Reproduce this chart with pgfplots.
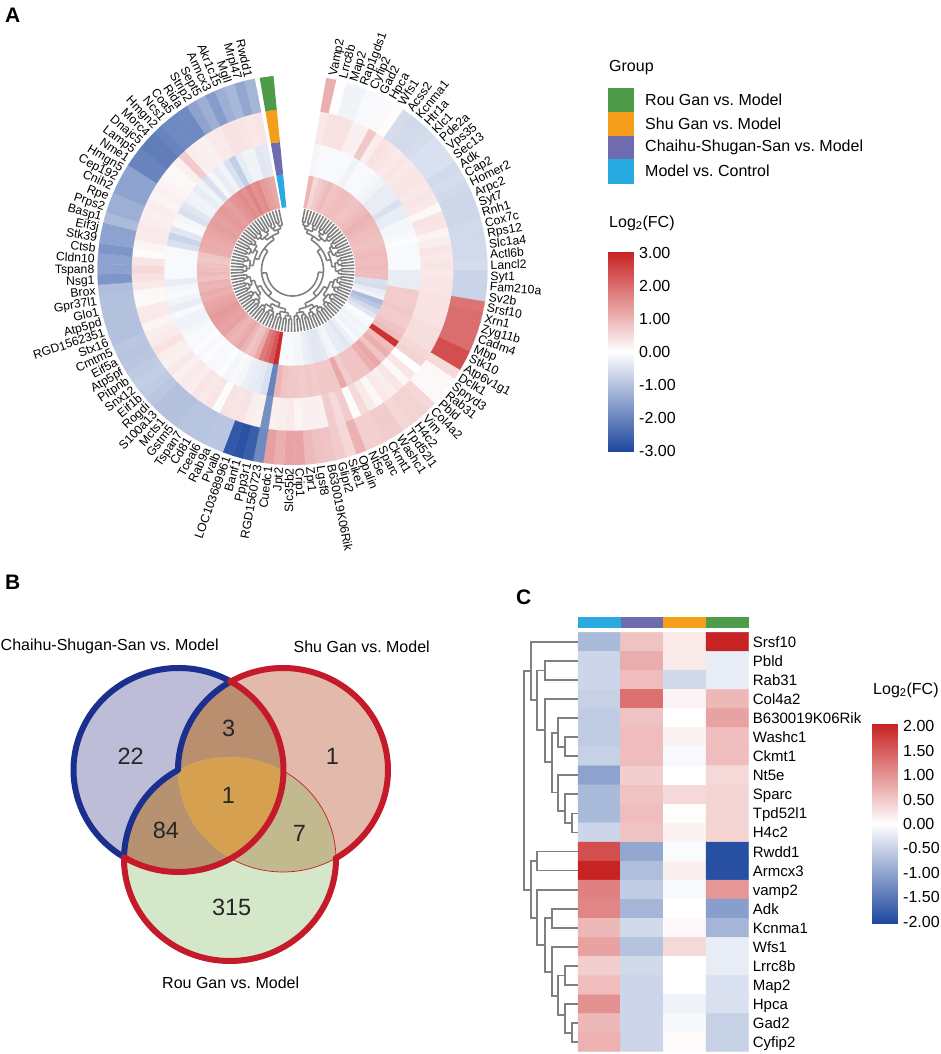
\documentclass[border=0pt]{standalone}
\usepackage{fontspec}
\setmainfont{Liberation Sans}
\usepackage{pgfplots}
\pgfplotsset{compat=1.18}
\usepgfplotslibrary{polar,patchplots}
\newcommand\fs[1]{\fontsize{#1}{#1}\selectfont}
\frenchspacing

\definecolor{stripcy}{HTML}{29ABE2}
\definecolor{strippu}{HTML}{6E6BAE}
\definecolor{stripor}{HTML}{F59E1B}
\definecolor{stripgr}{HTML}{4E9C4A}
\definecolor{treegray}{HTML}{808080}
\definecolor{vblue}{HTML}{1B2F8F}
\definecolor{vred}{HTML}{C41A2A}

\pgfplotsset{colormap={lfc}{rgb255(0cm)=(28,70,157); rgb255(1cm)=(255,255,255); rgb255(2cm)=(200,35,35)}}

% ring cells: angle step 3.08 deg, starts 10 deg clockwise from the top
\def\buildring#1#2#3#4{%
  \gdef#1{}%
  \foreach \v [count=\i] in {#4} {%
    \pgfmathsetmacro\aa{80-3.08*(\i-1)}%
    \pgfmathsetmacro\ab{\aa-3.08}%
    \xdef#1{#1 (\aa,#2) [\v] (\ab,#2) [\v] (\ab,#3) [\v] (\aa,#3) [\v]}%
  }}

\buildring\ringa{63}{96}{%
1.0,.55,.7,.8,.95,.8,.85,.9,.9,.85,
.8,.85,.9,.95,1.05,1,.95,.9,.9,.85,
.85,.9,.95,.9,.9,.95,.9,.9,-.5,-.55,
-.3,-.2,-1.1,-.9,-.6,-.4,-.05,-.1,-.2,-.15,
-.2,-.1,-.25,-.4,-.3,-.3,-.15,-.2,-.35,-.4,
-.4,-.3,-.25,-.15,-.15,-.1,-.1,-.1,2.9,2.3,
2,1.8,1.2,.9,.8,1,1.2,1.1,1,1.1,
1.3,1.25,1.3,1.35,1.4,1.3,1.25,1.2,1.1,1.15,
1,1.05,.85,.95,.9,.85,.75,.8,1.1,1.15,
1.15,1.2,1.25,1.3,1.35,1.3,1.35,1.4,1.35,1.3,
1.45,1.5,1.6,1.5,1.7,1.5,1.6,1.35,1.3,1.2}
\buildring\ringb{96}{128.5}{%
-.15,-.1,-.1,-.1,-.1,-.1,-.2,-.1,-.1,-.1,
-.15,-.2,-.3,-.3,-.3,-.5,-.3,-.3,-.15,-.15,
-.1,-.05,-.1,-.1,-.1,-.1,-.3,-.3,-.3,.7,
.7,.7,.75,.7,.7,.8,.9,2.8,.9,1.1,
.8,1.2,1.1,.8,.8,.8,.7,1.2,.75,.75,
.75,.7,.75,.7,.75,.75,.8,1,-2,-.5,
-.35,-.3,-.25,-.15,-.1,-.15,-.05,-.1,-.1,-.05,
-.1,-.05,-.1,-.1,-.15,-.2,-.2,-.1,-.3,-.2,
-.1,-.15,-.3,-.1,-.1,-.1,-.1,-.1,-.5,-.7,
-.4,-.1,-.15,-.5,-.4,-.2,-.2,-.3,-.2,-.5,
-.15,-.3,-.2,-.5,-.8,-.3,-.2,-.2,-.4,-.35}
\buildring\ringc{128.5}{161}{%
.3,.4,.4,.4,.2,.2,.75,.25,.4,.35,
.3,.35,.3,.35,.35,.3,.35,.3,.1,.4,
.35,.15,.25,.35,.3,.35,.3,.35,.35,.4,
.4,.4,.4,.45,.45,.45,.55,.6,0,.35,
.1,.35,.25,.3,.1,.3,.5,.05,.7,.5,
.7,.2,.2,.2,.15,.3,.25,.2,-1.8,.2,
.25,.4,.35,.4,.05,.35,.3,.35,.25,.3,
.2,.3,.2,.25,.4,.3,.25,.15,.3,.3,
.1,.1,.3,.4,.5,.35,.05,.15,.3,.3,
.25,.2,.25,.15,.2,.15,.1,.1,.2,.7,
.25,.2,.2,.3,.3,.4,.4,.35,.3,.35}
\buildring\ringd{161}{195}{%
1.1,0.02,-.2,-.2,-.1,-.1,.08,.05,-.55,-.6,
-.6,-.55,-.5,-.5,-.5,-.6,-.55,-.6,-.65,-.65,
-.65,-.6,-.6,-.6,-.6,-.55,-.7,-.7,-.7,1.9,
2,2,2,2,2.4,2.4,.5,.1,.1,.1,
.55,.6,.6,.55,.7,.7,.65,.65,1.05,.55,
.7,.8,.85,.95,1.25,1.25,1.1,1.3,-1.9,-2.6,
-2.8,-2.7,-.9,-.9,-.95,-.95,-.95,-1,-1,-1,
-.9,-.85,-.8,-.85,-.9,-.95,-.9,-1,-1,-1,
-1,-1,-1.05,-1.7,-1.5,-1.5,-1.7,-1.5,-1.5,-1.1,
-1.3,-1.3,-1.5,-1.5,-1.5,-2,-2,-2.1,-2.1,-2,
-1.9,-1.9,-1.9,-1.5,-1.3,-1.6,-1.3,-1.15,-1.45,-1.2}

% circular dendrogram, collected into one path
\gdef\dcoords{}
\def\levr#1{\ifcase#1 26\or31\or35.5\or39.5\or43\or46\or49\or52\else 54\fi}
\def\addarc#1#2#3{%
  \pgfmathsetmacro\aone{80-3.08*(#1-0.5)}%
  \pgfmathsetmacro\atwo{80-3.08*(#2-0.5)}%
  \pgfmathtruncatemacro\nseg{max(1,ceil(abs(#2-(#1))))}%
  \foreach \k in {0,...,\nseg}{%
    \pgfmathsetmacro\ak{\aone+(\atwo-\aone)*\k/\nseg}%
    \xdef\dcoords{\dcoords (\ak,#3)}}%
  \xdef\dcoords{\dcoords (nan,nan)}}
\def\addrad#1#2#3{%
  \pgfmathsetmacro\aone{80-3.08*(#1-0.5)}%
  \xdef\dcoords{\dcoords (\aone,#2) (\aone,#3) (nan,nan)}}
\def\dtree#1#2#3{%
  \begingroup
  \pgfmathtruncatemacro\midl{(#1+#2)/2}%
  \pgfmathtruncatemacro\midr{\midl+1}%
  \pgfmathsetmacro\dpl{(#1+\midl)/2}%
  \pgfmathsetmacro\dpr{(\midr+#2)/2}%
  \edef\rr{\levr{#3}}%
  \edef\rc{\levr{\numexpr#3+1\relax}}%
  \edef\nl{\the\numexpr#3+1\relax}%
  \addarc{\dpl}{\dpr}{\rr}%
  \ifnum#1<\midl
    \addrad{\dpl}{\rr}{\rc}%
    \edef\nx{\noexpand\dtree{#1}{\midl}{\nl}}\nx
  \else
    \addrad{\dpl}{\rr}{62}%
  \fi
  \ifnum\midr<#2
    \addrad{\dpr}{\rr}{\rc}%
    \edef\nx{\noexpand\dtree{\midr}{#2}{\nl}}\nx
  \else
    \addrad{\dpr}{\rr}{62}%
  \fi
  \endgroup}
\dtree{1}{110}{0}

\def\ellA{(axis cs:178.5,284) ellipse [x radius=105,y radius=102]}
\def\ellB{(axis cs:283,284) ellipse [x radius=105,y radius=102]}
\def\ellC{(axis cs:230,195) ellipse [x radius=106,y radius=102]}

\begin{document}
\begin{tikzpicture}[x=1pt,y=1pt]
\path[use as bounding box] (0,0) rectangle (941,1054);

% ---- A: circular heatmap
\begin{polaraxis}[at={(292.5pt,784pt)},anchor=center,scale only axis,width=390pt,height=390pt,
  xmin=0,xmax=360,ymin=0,ymax=195,hide axis,clip=false,
  colormap name=lfc,point meta min=-3,point meta max=3]
\foreach \rg in {\ringa,\ringb,\ringc,\ringd}{%
  \edef\tmp{\noexpand\addplot[patch,patch type=rectangle,shader=faceted,faceted color=mapped color,line width=0.2pt,point meta=explicit] coordinates {\rg};}\tmp}
\addplot[fill=stripcy,draw=none] coordinates {(99.7,63) (95.6,63) (95.6,96) (99.7,96)} -- cycle;
\addplot[fill=strippu,draw=none] coordinates {(99.7,96) (95.6,96) (95.6,128.5) (99.7,128.5)} -- cycle;
\addplot[fill=stripor,draw=none] coordinates {(99.7,128.5) (95.6,128.5) (95.6,161) (99.7,161)} -- cycle;
\addplot[fill=stripgr,draw=none] coordinates {(99.7,161) (95.6,161) (95.6,195) (99.7,195)} -- cycle;
\edef\tmp{\noexpand\addplot[treegray,line width=1.6pt,mark=none,unbounded coords=jump] coordinates {\dcoords};}\tmp
\pgfplotsextra{%
\foreach \g [count=\i] in {Vamp2,Lrrc8b,Map2,Rap1gds1,Cyfip2,Gad2,Hpca,Wfs1,Acss2,Kcnma1,
Htr1a,Klc1,Pde2a,Vps35,Sec13,Adk,Cap2,Homer2,Arpc2,Syt7,
Rnh1,Cox7c,Rps12,Slc1a4,Actl6b,Lancl2,Syt1,Fam210a,Sv2b,Srsf10,
Xrn1,Zyg11b,Cadm4,Mbp,Stk10,Atp6v1g1,Dclk1,Spryd3,Rab31,Pbld,
Col4a2,Vim,H4c2,Tpd52l1,Washc1,Ckmt1,Sparc,Nt5e,Opalin,Sike1,
Glipr2,B630019K06Rik,Lgsf8,Zpr1,Crip1,Slc35b2,Jpt2,Cuedc1,RGD1560723,Ppp3r1,
Banf1,LOC103689961,Pvalb,Rab9a,Tceal6,Cd81,Tspan7,Gstm5,Mcts1,S100a13,
Rogdi,Eif1b,Snx12,Pitpnb,Atp5pf,Eif5a,Cmtm5,Stx16,RGD1562351,Atp5pd,
Glo1,Gpr37l1,Brox,Nsg1,Tspan8,Cldn10,Ctsb,Stk39,Eif3j,Basp1,
Prps2,Rpe,Cnih2,Cep192,Hmgn5,Nme1,Lamp5,Dnajc5,Morc4,Hmgn2,
Ncs1,Coa5,Rida,Strip2,Sept5,Armcx3,Akr1c15,Mgll,Mrpl47,Rwdd1}{%
  \pgfmathsetmacro\ga{80-3.08*(\i-0.5)}%
  \ifnum\i<56
    \node[anchor=west,inner sep=0pt,text height=11pt,text depth=2pt,rotate=\ga,font=\fs{12.2}] at (axis cs:\ga,198) {\g};
  \else
    \pgfmathsetmacro\gb{\ga+180}%
    \node[anchor=east,inner sep=0pt,text height=11pt,text depth=2pt,rotate=\gb,font=\fs{12.2}] at (axis cs:\ga,198) {\g};
  \fi
}}
\end{polaraxis}

% ---- legend
\node[anchor=west,inner sep=0pt,font=\fs{16}] at (609,986) {Group};
\fill[stripgr] (608,966) rectangle (634,942);
\fill[stripor] (608,942) rectangle (634,918);
\fill[strippu] (608,918) rectangle (634,895);
\fill[stripcy] (608,895) rectangle (634,870);
\node[anchor=west,inner sep=0pt,font=\fs{16}] at (645,954) {Rou Gan vs. Model};
\node[anchor=west,inner sep=0pt,font=\fs{16}] at (645,930) {Shu Gan vs. Model};
\node[anchor=west,inner sep=0pt,font=\fs{16}] at (645,907) {Chaihu-Shugan-San vs. Model};
\node[anchor=west,inner sep=0pt,font=\fs{16}] at (645,883) {Model vs. Control};
\node[anchor=west,inner sep=0pt,font=\fs{16}] at (609,831) {Log\textsubscript{2}(FC)};

\begin{axis}[at={(608pt,602pt)},anchor=south west,scale only axis,width=25pt,height=200pt,
  xmin=0,xmax=1,ymin=-3.03,ymax=3.03,xtick=\empty,ytick={-3,-2,-1,0,1,2,3},
  yticklabels={-3.00,-2.00,-1.00,0.00,1.00,2.00,3.00},yticklabel pos=right,
  axis line style={draw=none},major tick length=0pt,
  yticklabel style={font=\fs{16},anchor=west,inner sep=0pt,xshift=6pt},
  colormap name=lfc,point meta min=-3,point meta max=3]
\addplot[patch,patch type=rectangle,shader=interp,point meta=explicit] coordinates {
  (0,-3.03) [-3] (1,-3.03) [-3] (1,0) [0] (0,0) [0]
  (0,0) [0] (1,0) [0] (1,3.03) [3] (0,3.03) [3]};
\end{axis}

% ---- B: Venn diagram
\begin{axis}[at={(0pt,0pt)},anchor=south west,scale only axis,width=440pt,height=454pt,
  xmin=0,xmax=440,ymin=0,ymax=454,hide axis,clip=false]
\fill[fill={rgb,255:red,189;green,189;blue,216}] \ellA;
\fill[fill={rgb,255:red,227;green,185;blue,171}] \ellB;
\fill[fill={rgb,255:red,212;green,231;blue,200}] \ellC;
\begin{scope}\clip \ellA; \fill[fill={rgb,255:red,185;green,143;blue,112}] \ellB; \end{scope}
\begin{scope}\clip \ellA; \fill[fill={rgb,255:red,183;green,146;blue,112}] \ellC; \end{scope}
\begin{scope}\clip \ellB; \fill[fill={rgb,255:red,194;green,186;blue,142}] \ellC; \end{scope}
\begin{scope}\clip \ellA; \clip \ellB; \fill[fill={rgb,255:red,213;green,160;blue,79}] \ellC; \end{scope}
\draw[vred,line width=0.7pt] (axis cs:230,195) ++(58.7:106 and 102) arc[start angle=58.7,end angle=0,x radius=106,y radius=102];
\draw[vred,line width=0.7pt] (axis cs:283,284) ++(-59.9:105 and 102) arc[start angle=-59.9,end angle=-120.3,x radius=105,y radius=102];
\draw[vblue,line width=6pt,line cap=round] (axis cs:178.5,284) ++(60.6:105 and 102) arc[start angle=60.6,end angle=238.7,x radius=105,y radius=102];
\draw[vblue,line width=6pt,line cap=round] (axis cs:283,284) ++(120.3:105 and 102) arc[start angle=120.3,end angle=180,x radius=105,y radius=102];
\draw[vblue,line width=6pt,line cap=round] (axis cs:230,195) ++(120:106 and 102) arc[start angle=120,end angle=180,x radius=106,y radius=102];
\draw[vred,line width=6pt,line cap=round] (axis cs:283,284) ++(120.3:105 and 102) arc[start angle=120.3,end angle=-59.9,x radius=105,y radius=102];
\draw[vred,line width=6pt,line cap=round] (axis cs:230,195) ++(0:106 and 102) arc[start angle=0,end angle=-180,x radius=106,y radius=102];
\draw[vred,line width=6pt,line cap=round] (axis cs:178.5,284) ++(-121.3:105 and 102) arc[start angle=-121.3,end angle=60.6,x radius=105,y radius=102];
\addplot[only marks,mark=none,point meta=explicit symbolic,nodes near coords,
  nodes near coords style={anchor=center,inner sep=0pt,font=\fs{23.5},text=black!85}]
  table[meta=n] {
x y n
130.7 297.3 22
228.7 326 3
332.3 297.3 1
228.3 258.3 1
166 223.3 84
299.3 221 7
231.7 147 315
};
\node[anchor=center,inner sep=0pt,font=\fs{16}] at (axis cs:109.7,407.3) {Chaihu-Shugan-San vs. Model};
\node[anchor=center,inner sep=0pt,font=\fs{16}] at (axis cs:361.7,407.3) {Shu Gan vs. Model};
\node[anchor=center,inner sep=0pt,font=\fs{16}] at (axis cs:230.7,71.3) {Rou Gan vs. Model};
\end{axis}

% ---- C: heatmap
\begin{axis}[at={(578pt,2.3pt)},anchor=south west,scale only axis,width=170.7pt,height=419.4pt,
  xmin=-0.5,xmax=3.5,ymin=-0.5,ymax=21.5,y dir=reverse,clip=false,
  xtick=\empty,ytick={0,...,21},yticklabel pos=right,
  yticklabels={Srsf10,Pbld,Rab31,Col4a2,B630019K06Rik,Washc1,Ckmt1,Nt5e,Sparc,Tpd52l1,H4c2,Rwdd1,Armcx3,vamp2,Adk,Kcnma1,Wfs1,Lrrc8b,Map2,Hpca,Gad2,Cyfip2},
  axis line style={draw=none},major tick length=0pt,
  yticklabel style={font=\fs{15},anchor=west,inner sep=0pt,xshift=4pt,text height=13pt,text depth=2pt},
  colormap name=lfc,point meta min=-2,point meta max=2]
\addplot[matrix plot*,mesh/cols=4,point meta=explicit] coordinates {
(0,0) [-.75] (1,0) [.55] (2,0) [.2] (3,0) [2]
(0,1) [-.45] (1,1) [.75] (2,1) [.2] (3,1) [-.2]
(0,2) [-.45] (1,2) [.6] (2,2) [-.4] (3,2) [-.2]
(0,3) [-.5] (1,3) [1.3] (2,3) [.1] (3,3) [.65]
(0,4) [-.55] (1,4) [.55] (2,4) [0] (3,4) [.85]
(0,5) [-.55] (1,5) [.6] (2,5) [.12] (3,5) [.6]
(0,6) [-.5] (1,6) [.6] (2,6) [-.06] (3,6) [.6]
(0,7) [-1] (1,7) [.45] (2,7) [0] (3,7) [.35]
(0,8) [-.75] (1,8) [.55] (2,8) [.35] (3,8) [.4]
(0,9) [-.75] (1,9) [.6] (2,9) [.02] (3,9) [.4]
(0,10) [-.45] (1,10) [.55] (2,10) [.12] (3,10) [.4]
(0,11) [1.6] (1,11) [-.95] (2,11) [-.04] (3,11) [-1.9]
(0,12) [2] (1,12) [-.7] (2,12) [.15] (3,12) [-1.9]
(0,13) [1.15] (1,13) [-.55] (2,13) [-.06] (3,13) [.95]
(0,14) [1.1] (1,14) [-.8] (2,14) [0] (3,14) [-1.05]
(0,15) [.65] (1,15) [-.4] (2,15) [.06] (3,15) [-.8]
(0,16) [.85] (1,16) [-.65] (2,16) [.35] (3,16) [-.2]
(0,17) [.45] (1,17) [-.4] (2,17) [0] (3,17) [-.2]
(0,18) [.6] (1,18) [-.45] (2,18) [0] (3,18) [-.33]
(0,19) [1] (1,19) [-.45] (2,19) [-.14] (3,19) [-.33]
(0,20) [.65] (1,20) [-.45] (2,20) [-.07] (3,20) [-.5]
(0,21) [.7] (1,21) [-.45] (2,21) [.05] (3,21) [-.5]
};
\fill[stripcy] (axis cs:-0.5,-1.287) rectangle (axis cs:0.5,-0.741);
\fill[strippu] (axis cs:0.5,-1.287) rectangle (axis cs:1.5,-0.741);
\fill[stripor] (axis cs:1.5,-1.287) rectangle (axis cs:2.5,-0.741);
\fill[stripgr] (axis cs:2.5,-1.287) rectangle (axis cs:3.5,-0.741);
\end{axis}

% dendrogram beside the heatmap
\begin{axis}[at={(520pt,2.3pt)},anchor=south west,scale only axis,width=58pt,height=419.4pt,
  xmin=520,xmax=578,ymin=-0.5,ymax=21.5,y dir=reverse,hide axis,clip=false]
\addplot[treegray,line width=1.8pt,mark=none,unbounded coords=jump] coordinates {
(530.7,1.53) (524,1.53) (524,13) (530.7,13) (nan,nan)
(578,0) (530.7,0) (530.7,3.05) (537.3,3.05) (nan,nan)
(545,1.5) (537.3,1.5) (537.3,4.63) (545,4.63) (nan,nan)
(578,1) (545,1) (545,2) (578,2) (nan,nan)
(578,3) (545,3) (545,6.3) (551.7,6.3) (nan,nan)
(558.3,4.77) (551.7,4.77) (551.7,7.9) (558.3,7.9) (nan,nan)
(578,4) (558.3,4) (558.3,5.5) (565,5.5) (nan,nan)
(578,5) (565,5) (565,6) (578,6) (nan,nan)
(578,7) (558.3,7) (558.3,8.87) (565,8.87) (nan,nan)
(578,8) (565,8) (565,9.5) (572.3,9.5) (nan,nan)
(578,9) (572.3,9) (572.3,10) (578,10) (nan,nan)
(537.3,11.5) (530.7,11.5) (530.7,14.47) (537.3,14.47) (nan,nan)
(578,11) (537.3,11) (537.3,12) (578,12) (nan,nan)
(578,13) (537.3,13) (537.3,15.9) (545,15.9) (nan,nan)
(551.7,14.5) (545,14.5) (545,17.3) (551.7,17.3) (nan,nan)
(578,14) (551.7,14) (551.7,15) (578,15) (nan,nan)
(578,16) (551.7,16) (551.7,18.57) (558.3,18.57) (nan,nan)
(565,17.5) (558.3,17.5) (558.3,19.58) (565,19.58) (nan,nan)
(578,17) (565,17) (565,18) (578,18) (nan,nan)
(578,19) (565,19) (565,20.5) (572.3,20.5) (nan,nan)
(578,20) (572.3,20) (572.3,21) (578,21)
};
\end{axis}

% colour bar of C
\node[anchor=west,inner sep=0pt,font=\fs{16}] at (873,364) {Log\textsubscript{2}(FC)};
\begin{axis}[at={(872pt,130pt)},anchor=south west,scale only axis,width=25pt,height=200pt,
  xmin=0,xmax=1,ymin=-2.05,ymax=2.05,xtick=\empty,ytick={-2,-1.5,-1,-0.5,0,0.5,1,1.5,2},
  yticklabels={-2.00,-1.50,-1.00,-0.50,0.00,0.50,1.00,1.50,2.00},yticklabel pos=right,
  axis line style={draw=none},major tick length=0pt,
  yticklabel style={font=\fs{16},anchor=west,inner sep=0pt,xshift=6pt},
  colormap name=lfc,point meta min=-2,point meta max=2]
\addplot[patch,patch type=rectangle,shader=interp,point meta=explicit] coordinates {
  (0,-2.05) [-2] (1,-2.05) [-2] (1,0) [0] (0,0) [0]
  (0,0) [0] (1,0) [0] (1,2.05) [2] (0,2.05) [2]};
\end{axis}

% panel letters
\node[anchor=west,inner sep=0pt,font=\fs{21}\bfseries] at (5,1039) {A};
\node[anchor=west,inner sep=0pt,font=\fs{21}\bfseries] at (5,472) {B};
\node[anchor=west,inner sep=0pt,font=\fs{21}\bfseries] at (516,457) {C};
\end{tikzpicture}
\end{document}
